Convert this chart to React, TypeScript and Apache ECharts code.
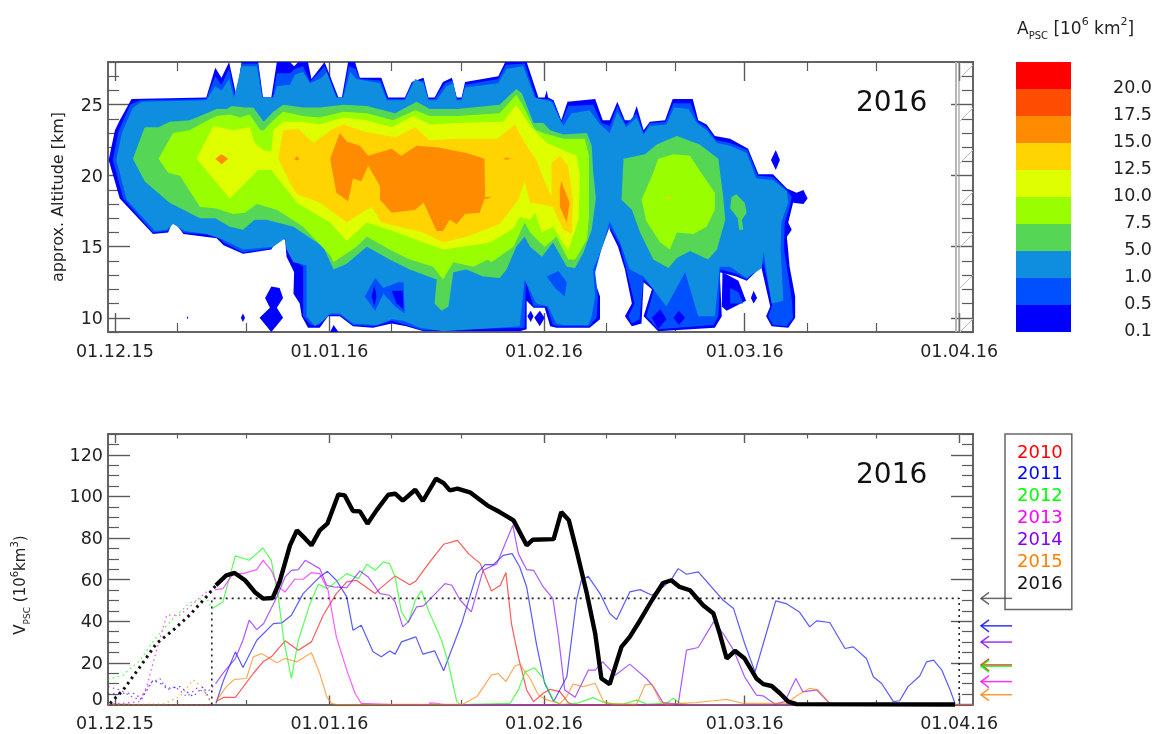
import React, { useEffect, useRef } from "react";
import * as echarts from "echarts";

const FONT = "'DejaVu Sans', Verdana, sans-serif";
const majorDays = [0, 31, 62, 91, 122];
const minorDays = [9, 19, 40, 50, 71, 81, 100, 110];
const dateLabels = ["01.12.15", "01.01.16", "01.02.16", "01.03.16", "01.04.16"];
const altMajor = [10, 15, 20, 25];
const altMinor = [9, 11, 12, 13, 14, 16, 17, 18, 19, 21, 22, 23, 24, 26, 27, 28];
const volMajor = [0, 20, 40, 60, 80, 100, 120];
const volMinor = [5, 10, 15, 25, 30, 35, 45, 50, 55, 65, 70, 75, 85, 90, 95, 105, 110, 115, 125, 130];
const bandLabels = ["0.1", "0.5", "1.0", "5.0", "7.5", "10.0", "12.5", "15.0", "17.5", "20.0"];
const bandColors = ["#0000ff", "#0050ff", "#0f8ee0", "#55d655", "#99ff00", "#dfff00", "#ffd400", "#ff8c00", "#ff4d00", "#ff0000"];
const years = ["2010", "2011", "2012", "2013", "2014", "2015", "2016"];
const yearColors = ["#ff0000", "#0000ff", "#00ff00", "#ff00ff", "#8000ff", "#ff8000", "#111111"];
const arrowValues = [19, 37.8, 18.4, 11, 30, 4.7, 51];
const thresholdLine = [[14, 0], [14, 51], [122, 51], [122, 0]];

// ---- A_PSC contours: [day since 1 Dec, altitude km]
const a01Main = [[-0.9,21.1],[0,23.2],[0.7,23.9],[2.4,25.4],[13.2,25.5],[14.5,27.6],[15.4,26.9],[16.5,28],[17.6,25.5],[18.3,28],[20.7,28],[21.4,25.5],[22.6,25.5],[23.4,28],[25.3,28],[25.9,27.7],[26.5,28],[27.9,28],[28.4,26.8],[30.3,28],[32.3,25.5],[32.8,25.5],[33.7,28],[34.7,28],[35.4,26.9],[38.5,26.9],[39.5,25.5],[41.9,25.5],[42.9,26.6],[44.6,26.9],[45.3,25.5],[46.2,25.5],[47.4,26.6],[48.7,26.9],[49.4,25.5],[50.1,25.5],[50.6,26.6],[55.4,27],[56.4,28],[59.5,28],[61.2,25.5],[62.1,25.5],[62.4,26],[62.6,25.5],[63.4,25.3],[64.5,23.9],[65.4,25.2],[69.4,25.4],[70.5,23.9],[71.5,23.9],[72.6,25.2],[73.7,23.9],[74.7,23.9],[75.4,24.9],[76.4,23.2],[77.3,23.8],[79.5,23.9],[80.6,25.4],[83.5,25.4],[84.3,23.9],[85.5,23.6],[86.7,22.8],[88.9,22.6],[91.5,21.9],[93,20.1],[95.1,20.1],[97.1,19.1],[98.5,18.8],[99.5,19],[100.1,18.4],[99.5,18],[98,18.1],[97.3,16.7],[97.8,16.2],[97.1,15.7],[97.5,13.6],[98.3,11.5],[98.3,10],[97.3,9.3],[94.9,9.4],[94.1,10.1],[94.7,10.8],[93.4,13.6],[91.3,12.6],[89.8,12.9],[87.4,13.2],[87.7,10.1],[86.7,9.3],[78.5,9.05],[76.4,10.1],[77.6,12],[76.4,12.5],[76.1,9.6],[74.7,9.4],[73.7,10.1],[74.7,11],[73.7,13.4],[72.7,15],[71.5,16.2],[71.3,17.4],[70.3,15],[69.1,12.9],[70.1,11.5],[70.1,9.9],[68.6,9.3],[63.8,9.3],[62.9,9.4],[62.1,10.7],[60.5,10.7],[59.5,11.2],[59.5,9.2],[58.5,9.05],[44.6,9.05],[42.1,9.4],[40,9.6],[37.3,9.3],[34.4,9.4],[32.5,10.1],[30.8,10.1],[29.6,9.3],[27.9,9.3],[27,10.1],[26.7,11],[25.8,11.7],[25.9,13.2],[24.8,14.3],[24.6,15.5],[23.6,15.7],[22.6,14.8],[18.5,14.5],[15.7,15.1],[14.7,15.6],[9.9,15.9],[8.4,16.9],[7.7,16],[5.5,15.9],[0.7,18.4]];
const a01Islands = [
  [[21.7,11.4],[22.6,12.2],[23.8,12.1],[24.3,11.4],[23.4,10.7],[24.3,10],[22.6,9],[20.9,10],[22.4,10.7]],
  [[10.4,10],[10.5,10.1],[10.6,10],[10.5,9.9]],
  [[18.2,10],[18.5,10.3],[18.8,10],[18.5,9.7]],
  [[31.1,9],[31.6,9.5],[32.3,9]],
  [[60.6,10],[61.4,10.5],[62.1,10],[61.4,9.4]],
  [[59.6,10.1],[60.1,10.5],[60.5,10.1],[60.1,9.7]],
  [[94.8,21.1],[95.5,21.8],[96.1,21.1],[95.5,20.4]],
  [[91.9,11.4],[92.3,11.9],[92.8,11.4],[92.3,11]],
  [[87.8,13.2],[90.1,12.6],[91.2,11.2],[88.4,10.5],[87.7,10.8]],
];
const a05Main = [[-0.3,21.1],[0.5,23.1],[2.2,25],[3.6,25.3],[13.2,25.4],[14.5,27],[15.4,26.4],[16.5,27.5],[17.4,25.5],[18.3,27.9],[20.7,27.9],[21.3,25.5],[22.8,25.5],[23.4,27.2],[25.3,27.2],[26,27.5],[27.2,27.7],[28.2,26.6],[30.3,27.7],[32.1,25.5],[32.9,25.5],[33.8,27.7],[34.8,27.5],[35.4,26.8],[38.4,26.7],[39.4,25.4],[41.9,25.4],[43,26.6],[44.6,26.7],[45.3,25.4],[46.2,25.4],[47.7,26.5],[48.8,26.7],[49.4,25.4],[50.1,25.4],[50.6,26.4],[55.4,26.8],[56.5,27.8],[59.2,27.9],[60.9,25.4],[62.6,25.4],[63.4,25.2],[64.5,23.7],[65.5,24.9],[69.1,25],[70.3,23.7],[71.5,23.5],[72.6,24.9],[73.8,23.6],[75.4,24.4],[76.4,23],[77.3,23.7],[79.6,23.8],[80.7,25.1],[83.2,25.1],[84.2,23.8],[85.5,23.4],[86.9,22.5],[88.9,22.3],[91.4,21.8],[92.9,20],[95.1,19.9],[97.1,19],[97.8,18.5],[97.5,17.8],[96.8,16.7],[96.7,14.8],[97.3,12.9],[97.8,11.3],[98,10],[97.1,9.4],[95.1,9.5],[94.4,10.1],[95,10.9],[93.7,13.9],[91.3,12.7],[89.8,13.1],[87.5,13.4],[87.2,10.1],[86.5,9.5],[78.5,9.2],[76.8,10.1],[77.9,12],[76.4,12.7],[75.8,9.9],[74.7,9.6],[74.2,10.1],[75.1,11],[73.9,13.4],[73,15.1],[71.5,16.4],[70.3,14.8],[69.4,13.2],[69.8,11.5],[69.6,10],[68.5,9.4],[64.1,9.4],[63.3,9.5],[62.4,10.8],[60.5,10.8],[59.4,12.5],[59.2,9.3],[51.3,9.2],[44.6,9.1],[42.1,9.5],[40,9.8],[37.6,9.4],[34.4,9.5],[32.5,10.2],[30.8,10.2],[29.5,9.5],[28.3,9.5],[27.2,10.1],[27.2,13.6],[25.5,14.2],[24.8,15.5],[23.6,15.9],[22.7,14.9],[18.5,14.6],[15.7,15.3],[14.7,15.8],[9.9,16],[8.4,16.8],[7.7,16.1],[5.5,16],[1.2,18.4]];
const a05Island = [[88.9,12.1],[90.1,11.8],[90.8,11],[88.9,11]];
const a10Main = [[0.2,21.1],[1,23],[2.6,24.8],[3.9,25.2],[13.2,25.3],[14.5,26.3],[15.4,26],[16.5,26.8],[17.2,25.5],[18.3,27.7],[20.5,27.7],[21.3,25.5],[22.9,25.5],[23.4,26.3],[25.3,26.4],[26,27.1],[27.2,27.3],[28.2,26.5],[29.9,26.9],[30.6,27.3],[32,25.5],[33,25.5],[34,27.3],[34.9,26.8],[38.3,26.5],[39.3,25.3],[41.9,25.3],[43.4,26.8],[44.6,26.5],[45.3,25.3],[46.5,25.3],[47.9,26.3],[48.9,26.5],[49.4,25.3],[50.1,25.3],[50.6,26.2],[55.4,26.5],[56.6,27.5],[59,27.7],[60.7,25.5],[63.1,25.2],[64.8,23.5],[66,24.4],[68.6,24.6],[70.1,23.6],[71.5,23],[72.6,24.5],[73.9,23.4],[75.4,24.1],[76.4,22.9],[77.3,23.5],[79.7,23.6],[80.8,24.8],[82.9,24.7],[84.1,23.7],[85.5,23.2],[87,22.3],[88.9,22.1],[91.3,21.6],[92.7,19.8],[95.1,19.7],[97.1,18.9],[97.3,18.1],[96.3,16.7],[96.2,14.8],[96.6,11.2],[94.9,11],[93.7,14.7],[93.5,13.5],[91.3,12.8],[88.9,13.6],[87.4,13.6],[86.7,10.1],[84.3,10.1],[82.4,13.2],[79.7,10.8],[76.4,12.9],[74.4,13.4],[73,15.3],[71.5,16.8],[70.3,14.8],[69.1,13.4],[69.4,11.5],[68.9,10.1],[68.4,9.5],[64.8,9.5],[63.8,9.6],[62.6,10.8],[60.9,11],[59.2,12.7],[58.5,9.4],[47.4,9.05],[44.1,9.3],[41.7,9.8],[40,9.9],[37.8,9.5],[34.4,9.6],[32.5,10.3],[31.1,10.3],[30.1,9.8],[28.9,9.4],[27.7,10.1],[27.7,13.7],[25.8,13.9],[24.8,14.8],[24.6,15.6],[22.9,15],[18.5,14.8],[15.7,15.5],[13.2,15.9],[10.1,16.1],[8.4,16.6],[7.5,16.2],[5.8,16.1],[1.7,18.3]];
const a05Patches = [
  [[36.1,11.5],[37.6,12.8],[38.8,12.1],[40.9,12.5],[41.7,12.5],[41.9,10.3],[40.5,10.8],[38.8,11.7],[37.6,10.5]],
  [[62.4,12.9],[64.1,13.3],[65.3,12.5],[65,11.5],[63.6,12.1]],
];
const a01Patches = [
  [[37.1,11.5],[37.5,12.3],[37.8,11.5],[37.5,10.8]],
  [[40,11.9],[41.6,11.9],[41.7,10.6],[40.7,11]],
  [[80.7,10],[81.5,10.5],[82.4,10],[81.5,9.5]],
  [[77.6,10],[78.8,10.6],[79.7,9.9],[78.5,9.2]],
];
const a50Main = [[2.6,21.2],[4.3,23.4],[6.3,23.4],[7.9,23.8],[10.8,23.9],[12.8,24.3],[14.7,24.7],[16.1,24.7],[16.9,24.9],[18.8,24.8],[20,24.8],[21.5,23.8],[22.9,24.5],[24.3,25],[27.2,24.8],[29.6,24.8],[33,25],[36.4,24.9],[40.5,24.4],[43.6,25.2],[45.5,24.7],[49.4,24.7],[55.6,25],[58,26.1],[58.8,25.8],[60.5,23.7],[61.9,23.7],[62.9,23.2],[64.8,22.9],[68.2,23],[68.9,22.1],[69.1,20.4],[69.5,18.4],[68.9,16.2],[67.7,14.6],[66.5,13.5],[65.3,13.6],[63.3,15.3],[61.7,14.3],[60,15],[59.2,15.7],[58,15],[56.6,13.4],[55.6,12.8],[53.2,12.9],[50.8,13.4],[48.9,13.2],[48.2,10.8],[47.2,10.5],[46.2,11],[46.5,12.7],[42.6,13.4],[39.7,14.1],[36.4,15],[33.5,13.8],[31.6,13.4],[30.1,15],[25.8,16.4],[21.9,16.9],[20.2,16.9],[18.5,16.2],[16.6,16.4],[14.5,17],[12.3,17],[7.9,18.1],[5.5,19.1],[4.3,19.6]];
const a50Second = [[73.5,21.2],[76.6,21.5],[78.3,22.2],[81.2,22.8],[84.5,22.2],[87.2,21.2],[87.9,18.5],[88.2,16.9],[87,14.8],[85.7,14.1],[83.1,14.7],[81.2,14.2],[80,13.5],[77.8,14.1],[75.9,16],[74.7,17.6],[73.2,18.3]];
const a50Third = [[89.1,18.5],[89.8,18.7],[91,18.1],[91.3,17.4],[90.6,16.9],[90.8,16.2],[90.2,16.2],[90,17],[88.9,17.7]];
const a75Main = [[6.3,21.2],[8.4,23],[10.8,23.2],[13,23.8],[14.7,24.2],[16.6,24.3],[18.1,24.1],[19.5,24.3],[21,23.2],[21.5,23.2],[22.9,23.9],[24.3,24.5],[27.2,24.2],[29.6,24.1],[33,24.5],[36.4,24.4],[40.2,23.9],[43.4,24.6],[45.5,24.2],[49.4,24.2],[55.6,24.4],[58,25.7],[59,24.9],[60.5,23.4],[60.9,23.2],[61.9,23],[64.8,22.6],[67.9,22.6],[68.5,21.4],[68.5,17.1],[68.2,15.5],[66.5,14.1],[65.5,14.1],[63.8,15.7],[62.1,15],[61.2,15.4],[60,16],[59.2,16.7],[57.6,15],[54.4,13.9],[53.9,14.1],[51.8,13.6],[48.9,13.9],[47.4,12.7],[46,13.6],[42.6,14.1],[39.7,14.8],[36.4,15.7],[34.9,15],[31.6,13.9],[31.1,14.4],[27.2,16.4],[23.4,17.6],[20.5,18],[18.8,17.4],[17.1,17.3],[14.5,17.7],[12.3,17.8],[9.4,20],[7.7,20.2]];
const a75Second = [[78.5,21.2],[80.7,21.5],[83.1,21.4],[85,20],[86.7,18.8],[86.7,17.6],[85.5,16.4],[83.6,15.9],[81.2,16],[80.2,14.8],[78.8,15.3],[76.8,16.8],[76.1,18.3],[77.8,20.2]];
const a100Main = [[11.8,21.2],[14.2,23.5],[17.1,23.2],[19.5,23.4],[20.2,22.3],[21.4,21.8],[22.6,21.7],[22.9,23.2],[24.3,23.8],[27.2,23.8],[29.6,23.6],[33,24.1],[36.4,23.9],[40,23.4],[43.1,24.2],[45.5,23.6],[49.4,23.7],[56.1,23.8],[58,25],[60,23.5],[62.4,22.3],[66.7,21.4],[67.2,20],[67,16.9],[65.5,14.7],[63.3,16.4],[61.7,16],[60.7,17.4],[60,16.9],[58.5,17.1],[57.6,16.3],[54.2,15.3],[50.3,15],[47.4,14.8],[44.6,15.3],[40.2,16.1],[36.4,16.7],[33.5,15.4],[31.1,16.7],[26.3,18.1],[22.6,20.4],[20.7,20.4],[16.6,18.4]];
const a125Main = [[23.6,21.2],[24.3,23.2],[26.5,23.3],[28.7,22.3],[31.1,23.2],[33,23.6],[36.1,23.1],[40.5,22.7],[43.4,23.4],[45.5,22.5],[49.4,22.6],[55.2,22.6],[57.8,23.6],[59.5,22.1],[60.9,21.1],[62.1,19.6],[63.1,18.5],[63.1,20.9],[64.3,21.4],[65.5,20.7],[66.2,18.3],[66,15.9],[64.8,16.2],[63.3,17.8],[61.4,18],[60,18.1],[59.2,19.6],[58.3,18.3],[55.6,16.6],[50.8,15.7],[47.4,15.3],[44.6,16],[38.5,16.7],[37.1,17.8],[35.4,17.3],[33.5,16.7],[29.6,18.1],[26.3,18.7],[25.3,19.5]];
const a125Tiny = [[79.5,18.45],[80.3,18.5],[80.5,18.4],[79.5,18.4]];
const a150Main = [[31.1,21.2],[32.5,23],[33.5,22.4],[35.4,22.1],[36.6,21.4],[40,21.9],[41.4,21.4],[43.6,22.1],[46.5,22],[50.8,21.6],[53.4,21.2],[53.5,18.5],[52.7,17.4],[50.6,17.3],[49.4,16.6],[48.4,16.9],[47.4,16.1],[46.5,16.1],[44.6,18.1],[43.4,17.6],[40,17.4],[38.3,18.3],[38.3,19.3],[36.6,20.7],[35.6,19.6],[34.4,19.8],[33.7,18.2],[32,18.8]];
const a150Tiny = [
  [[14.5,21.2],[15.4,21.5],[16.4,21.2],[15.4,20.8]],
  [[25.9,21.2],[26.3,21.35],[26.7,21.2],[26.3,21.05]],
  [[56.1,21.2],[56.6,21.28],[57.2,21.2],[56.6,21.12]],
  [[53.5,18.5],[54.5,18.48],[53.5,18.35]],
  [[64.3,19],[64.5,19.6],[65.7,18.1],[65.3,16.7],[64.3,17.8]],
];

const contours: [number, number[][]][] = [
  [0, a01Main], ...a01Islands.map((p) => [0, p] as [number, number[][]]),
  [1, a05Main], [1, a05Island],
  [2, a10Main],
  ...a05Patches.map((p) => [1, p] as [number, number[][]]),
  ...a01Patches.map((p) => [0, p] as [number, number[][]]),
  [3, a50Main], [3, a50Second], [3, a50Third],
  [4, a75Main], [4, a75Second],
  [5, a100Main],
  [6, a125Main], [6, a125Tiny],
  [7, a150Main], ...a150Tiny.map((p) => [7, p] as [number, number[][]]),
];

// ---- V_PSC lines: [day since 1 Dec, volume]
const v2010 = [[14.6,1.4],[15.7,3.4],[17.4,3.4],[20,14.9],[21.4,20.5],[22.6,22.9],[24.6,30.6],[26.5,26.1],[28.4,30.1],[30.1,42.9],[32,53.3],[33.5,58.9],[34.9,59.7],[37.6,53.3],[38.3,55.7],[40.5,61.8],[42.6,57.6],[43.5,59.4],[45.5,68.5],[47.5,77],[49.5,78.9],[51.1,72.5],[52.8,67.7],[54.4,54.6],[55.7,57.3],[56.5,63.4],[57.3,38.9],[58.3,22.9],[59.5,7],[60.5,1.4],[61.9,5.4],[62.9,7.3],[64.3,6.2],[65.5,0.9],[66.2,0],[124,0]];
const v2011 = [[14.6,0.5],[15.7,11.7],[17.4,25.3],[18.5,17.8],[20.5,30.9],[22.9,38.9],[24.1,39.2],[25.5,42.9],[27.2,53.3],[29.6,61.3],[30.7,64],[32,59.7],[33.5,51.7],[34.4,35.7],[35.6,38.1],[37.3,25.3],[38.5,22.9],[39.7,25.7],[40.5,24.2],[41.4,30.1],[43.5,32.5],[44.5,24.2],[46.2,25.8],[47.5,16.2],[50.1,38.9],[52.3,62.9],[53.5,67.2],[54.7,67.2],[56.1,71.7],[57.4,72.5],[58.5,66.1],[59.5,56.5],[60.9,29.3],[62.1,10.2],[63.4,1.4],[65.3,13.3],[66.7,50.1],[67.4,59.7],[68.4,61.6],[70.1,53.3],[71.5,43.7],[72.5,40.8],[74.4,54.1],[75.9,55.2],[77.6,52.5],[79.2,56.5],[80.4,60],[81.4,65.3],[82.6,62.6],[84.3,63.7],[86,57.3],[87.9,50.1],[89.4,46.1],[91,29.3],[92.5,15.7],[93.7,29.3],[95.5,49.8],[97,48.5],[98.9,44.5],[100.4,37.3],[101.4,40.2],[103.3,39.4],[105.5,26.9],[106.7,27.7],[108.6,22.1],[109.6,13.3],[110.8,10.1],[112.5,1.4],[113.4,1.8],[114.6,8.6],[116.3,13.7],[117.3,20.5],[118.3,21.3],[119.5,16.5],[120.7,7],[121.4,0.5]];
const v2012 = [[14,46],[15.6,49.3],[17.4,71.4],[19.4,69.3],[21.4,75.2],[22.6,69.3],[23.6,51.7],[24.4,30.9],[25.5,12.5],[26.5,30.9],[28.2,48.5],[29.4,57.8],[30.7,55.7],[33.5,62.9],[35.2,60.5],[36.4,67.4],[37.6,64.5],[38.8,68.5],[39.7,67.7],[40.5,61.3],[41.4,44.5],[42.4,39.3],[43.4,50.1],[44.3,54.6],[45.3,45.3],[47.2,30.9],[48.2,19.7],[49.4,1.4],[49.9,0],[57.1,0.5],[58.3,7],[59.3,15.7],[60.6,17.7],[61.9,12.5],[63.3,2.2],[64.3,0],[66.7,0.5],[69.1,3.3],[71,0.5],[73.5,0.2],[75.4,2.2],[76.8,0.2],[79.7,0.5],[80.7,3],[81.7,0.5],[83,0],[124,0]];
const v2013 = [[14.6,55.2],[15.6,55.7],[17.1,62.9],[18.5,62.9],[20.5,64.8],[21.4,69.3],[22.6,64.5],[23.6,56.5],[24.6,54.1],[26,60.2],[27.2,60.2],[28.4,63.4],[29.6,62.9],[30.8,54.9],[32,32.5],[33.5,16.5],[34.7,5.4],[35.6,0.5],[40,0],[45.5,0],[45.5,0.8],[46.4,0.6],[47.5,0],[124,0]];
const v2014 = [[14.6,10.2],[15.6,15],[17.4,22.1],[18.5,30.9],[19.4,40.5],[20.5,36],[21.5,38.9],[23.4,51.7],[24.6,61.3],[25.5,64.5],[26.5,64.8],[27.5,69.3],[29.6,65.3],[30.6,57.3],[31.6,56.5],[33.5,56.2],[35.4,64.2],[36.6,61.3],[38.3,53.3],[39.7,52.5],[40.5,49.3],[41.6,37.3],[42.4,39.7],[43.6,46.9],[44.6,47.4],[47.7,58.1],[48.7,57.3],[49.9,50.1],[51.5,44.5],[53.2,64.5],[55.2,67.7],[56.6,78.9],[57.5,86.1],[58.3,72.5],[59.5,64.8],[60.5,64.5],[61.9,56.5],[63.3,50.9],[64.1,32.5],[65,7],[66.5,3.5],[68.4,16.5],[69.4,16.5],[70.5,20.5],[72.3,14.1],[74.4,19.4],[76.8,12.5],[77.8,8.6],[79.2,0.9],[81.4,0.2],[82.6,26.1],[84.3,27.4],[86.5,39.7],[87.9,34.1],[89.4,26.1],[91,13.3],[92.7,4.5],[93.7,4.1],[95.4,0.2],[96.8,1.4],[98.4,12.5],[99.4,6.1],[101.4,7],[103.3,0.5],[104.3,0],[124,0]];
const v2015 = [[14.6,1.4],[16.1,8.6],[17.3,12.1],[19,12.5],[20,22.9],[21.2,24.5],[23.4,20.1],[24.6,22.1],[26.3,20.5],[28.4,24.9],[29.6,14.9],[30.6,3.8],[31.3,0.5],[32,0],[50.3,0.2],[52.3,3.8],[54.4,14.1],[55.4,14.9],[56.5,11],[57.8,18.5],[58.5,19.3],[60,12.5],[61.2,4.6],[62.4,2.2],[64.3,0.5],[65.3,3.8],[66.2,9.8],[67.7,8.6],[69.4,10.2],[70.6,1.4],[72,0.2],[75.4,0.2],[76.6,9.4],[77.6,9.8],[78.8,1.4],[79.7,0.2],[84,0.9],[86.5,1.8],[88.4,2.5],[90.8,0.5],[97,0.5],[98.7,4.6],[100.4,7.8],[101.6,7],[103.3,0.5],[104,0],[124,0]];
const v2016 = [[14.6,57.3],[16.1,62.1],[17.3,63.2],[18.8,59.7],[20.2,54.1],[21.4,50.9],[22.8,51.2],[23.8,58.9],[25.3,76.5],[26.3,83.7],[27.5,79.7],[28.4,76.5],[29.6,83.7],[30.7,86.9],[32.3,101],[33.2,100.5],[34.4,93],[35.4,92.8],[36.5,86.9],[37.8,93.3],[39.5,100.8],[40.5,101.3],[41.6,98],[43.4,103.2],[44.5,97.8],[46.4,108.5],[47.5,106.4],[48.4,102.9],[49.5,103.7],[51.3,102],[53.8,95.7],[55.6,92.5],[57.6,88.5],[59.5,76.5],[60.4,79.2],[63.4,79.5],[64.5,92.5],[65.6,88.5],[66.7,74.1],[68.2,53.3],[69.4,34.1],[70.3,12.5],[71.5,9.8],[73.2,27.7],[74.4,32.5],[75.9,40.5],[77.6,50.1],[79.2,58.4],[80.4,59.7],[81.6,56.5],[83.1,54.9],[85,47.7],[86.5,43.7],[87.4,34.1],[88.4,22.1],[89.6,25.8],[91,22.1],[92.7,12.5],[93.7,9.8],[94.9,8.9],[96.1,5.4],[97.3,1.4],[98.5,0.2],[121.4,0]];
const d2010 = [[-1,0],[14,0]];
const d2011 = [[-1,5],[1.2,5.4],[2.7,5.4],[3.9,2.8],[5.5,11.7],[8,7.8],[9.4,8.6],[11.3,3.8],[12.8,8.6],[14,0]];
const d2012 = [[-1,12],[1.2,14.2],[3.6,21.3],[6,32.5],[8.4,41.3],[10.8,48.8],[13.2,51.7],[14,46]];
const d2013 = [[-1,0],[3.6,1.4],[4.6,8.6],[6,26],[7.5,43],[9.4,43],[10.8,47],[13.2,54],[14.6,55.2]];
const d2014 = [[-1,8.6],[0.7,7],[2.4,3.8],[3.6,2.2],[5,10],[6.5,12.5],[7.5,7],[8.7,8.6],[10.4,3.8],[11.8,7.8],[13.2,5.4],[14.6,10.2]];
const d2015 = [[-1,0],[7,0.2],[9.4,3.8],[11.3,11.8],[12.5,8.6],[14,0.5]];
const d2016 = [[-0.7,0.5],[1.2,7],[3.6,18],[6,29.3],[8.4,35.7],[10.8,43],[13.2,51.7],[14.6,57.3]];
const solidSeries = [v2010, v2011, v2012, v2013, v2014, v2015, v2016];
const dottedSeries = [d2010, d2011, d2012, d2013, d2014, d2015, d2016];

const lineGrey = "#5a5a5a";

function axisPair(grid: number, side: string, min: number, max: number, major: number[], minor: number[], majLen: number, minLen: number, withLabels: boolean, extra: any = {}) {
  const base = {
    type: "value", gridIndex: grid, position: side, min, max, scale: true,
    splitLine: { show: false }, axisPointer: { show: false },
    axisLine: { show: true, onZero: false, lineStyle: { color: lineGrey, width: 1.5 } },
  };
  return [
    {
      ...base, ...extra,
      axisTick: { show: true, inside: true, length: majLen, customValues: major, lineStyle: { color: lineGrey, width: 1.4 } },
      axisLabel: withLabels ? extra.axisLabel : { show: false },
    },
    {
      ...base,
      axisTick: { show: true, inside: true, length: minLen, customValues: minor, lineStyle: { color: lineGrey, width: 1.2 } },
      axisLabel: { show: false },
    },
  ];
}

const xLabel = (margin: number) => ({
  show: true, customValues: majorDays, margin, fontFamily: FONT, fontSize: 17.5, color: "#222",
  formatter: (v: number) => dateLabels[majorDays.indexOf(Math.round(v))] ?? "",
});

const hatchYs = [78, 121, 163, 205, 247, 288, 332];

export default function App() {
  const ref = useRef<HTMLDivElement>(null);
  useEffect(() => {
    const chart = echarts.init(ref.current!, undefined, { renderer: "svg" });
    const xAxes = [
      ...axisPair(0, "bottom", -1, 124, majorDays, minorDays, 19, 9, true, { axisLabel: xLabel(10) }),
      ...axisPair(0, "top", -1, 124, majorDays, minorDays, 19, 9, false),
      ...axisPair(1, "bottom", -1, 124, majorDays, minorDays, 9, 4.5, true, { axisLabel: xLabel(9) }),
      ...axisPair(1, "top", -1, 124, majorDays, minorDays, 9, 4.5, false),
      { type: "value", gridIndex: 2, min: 0, max: 1, show: false },
    ];
    const altLabel = { show: true, customValues: altMajor, margin: 5, fontFamily: FONT, fontSize: 17.5, color: "#222" };
    const volLabel = {
      show: true, customValues: volMajor, margin: 5, fontFamily: FONT, fontSize: 17.5, color: "#222",
      formatter: (v: number) => (v === 0 ? "{z|0}" : String(v)),
      rich: { z: { fontFamily: FONT, fontSize: 17.5, color: "#222", padding: [0, 0, 12, 0] } },
    };
    const yAxes = [
      ...axisPair(0, "left", 9, 28, altMajor, altMinor, 22, 11, true, {
        axisLabel: altLabel, name: "approx. Altitude [km]", nameLocation: "middle", nameGap: 43, nameRotate: 90,
        nameTextStyle: { fontFamily: FONT, fontSize: 16, color: "#222" },
      }),
      ...axisPair(0, "right", 9, 28, altMajor, altMinor, 22, 11, false),
      ...axisPair(1, "left", 0, 130, volMajor, volMinor, 22, 11, true, { axisLabel: volLabel }),
      ...axisPair(1, "right", 0, 130, volMajor, volMinor, 22, 11, false),
      {
        type: "category", gridIndex: 2, position: "right", data: bandLabels,
        axisLine: { show: false }, axisTick: { show: false },
        axisLabel: {
          margin: 81, align: "right", fontFamily: FONT, fontSize: 17.5, color: "#222",
          formatter: (v: string) => `{t|${v}}`,
          rich: { t: { fontFamily: FONT, fontSize: 17.5, color: "#222", padding: [23, 0, 0, 0] } },
        },
      },
    ];
    const series: any[] = [
      {
        type: "custom", name: "A_PSC", xAxisIndex: 0, yAxisIndex: 0, clip: true,
        data: contours.map((c) => c[1][0]),
        renderItem: (params: any, api: any) => {
          const [level, pts] = contours[params.dataIndex];
          return {
            type: "polygon",
            shape: { points: pts.map((p) => api.coord(p)) },
            style: { fill: bandColors[level], stroke: "none" },
          };
        },
      },
      {
        type: "bar", name: "scale", xAxisIndex: 8, yAxisIndex: 8, barWidth: "100%",
        data: bandColors.map((c) => ({ value: 1, itemStyle: { color: c } })),
      },
    ];
    years.forEach((y, i) => {
      const isBlack = y === "2016";
      series.push({
        type: "line", name: y, xAxisIndex: 4, yAxisIndex: 4, data: dottedSeries[i], symbol: "none", clip: false,
        lineStyle: { color: yearColors[i], width: isBlack ? 3 : 1.2, type: isBlack ? [2.5, 4] : [1.5, 3.5], opacity: isBlack ? 1 : 0.75 },
      });
    });
    series.push({
      type: "line", name: "threshold", xAxisIndex: 4, yAxisIndex: 4, data: thresholdLine, symbol: "none", clip: false,
      lineStyle: { color: "#222", width: 1.6, type: [2, 4] },
    });
    years.forEach((y, i) => {
      const isBlack = y === "2016";
      series.push({
        type: "line", name: y, xAxisIndex: 4, yAxisIndex: 4, data: solidSeries[i], symbol: "none", clip: false,
        lineStyle: { color: isBlack ? "#000" : yearColors[i], width: isBlack ? 4.4 : 1.2, opacity: isBlack ? 1 : 0.65 },
      });
    });
    series.push({
      type: "custom", name: "arrows", xAxisIndex: 4, yAxisIndex: 4, clip: false, z: 10,
      data: arrowValues.map((v) => [124, v]),
      renderItem: (params: any, api: any) => {
        const [x, y] = api.coord([api.value(0), api.value(1)]);
        const color = years[params.dataIndex] === "2016" ? "#444" : yearColors[params.dataIndex];
        const style = { stroke: color, lineWidth: 1.5, fill: "none", opacity: 0.8 };
        return {
          type: "group",
          children: [
            { type: "line", shape: { x1: x + 8, y1: y, x2: x + 39, y2: y }, style },
            { type: "polyline", shape: { points: [[x + 16, y - 6], [x + 8, y], [x + 16, y + 6]] }, style },
          ],
        };
      },
    });
    const hatch = hatchYs.map((y) => ({
      type: "line", z: 20, shape: { x1: 960, y1: y, x2: 973, y2: y - 13 }, style: { stroke: "#bdbdbd", lineWidth: 1 },
    }));
    chart.setOption({
      animation: false,
      textStyle: { fontFamily: FONT },
      grid: [
        { left: 108, top: 62, width: 865, height: 270 },
        { left: 108, top: 434, width: 865, height: 270.5 },
        { left: 1016, top: 62, width: 61, height: 270 },
      ],
      xAxis: xAxes,
      yAxis: yAxes,
      legend: {
        show: true, orient: "vertical", left: 1005, top: 434, padding: [8, 9, 18, 12],
        itemWidth: 0, itemHeight: 14, itemGap: 3.9, align: "left", selectedMode: false,
        borderColor: "#666", borderWidth: 1.5, backgroundColor: "transparent",
        textStyle: { fontFamily: FONT, fontSize: 18, padding: [0, 0, 0, -5] },
        data: years.map((y, i) => ({ name: y, icon: "none", textStyle: { color: yearColors[i] } })),
      },
      series,
      graphic: [
        ...hatch,
        { type: "line", z: 20, shape: { x1: 956, y1: 62, x2: 956, y2: 332 }, style: { stroke: "#b5b5b5", lineWidth: 2 } },
        { type: "line", z: 20, shape: { x1: 959, y1: 62, x2: 959, y2: 332 }, style: { stroke: "#8a8a8a", lineWidth: 1 } },
        { type: "text", x: 856, y: 101, z: 20, style: { text: "2016", font: `28px ${FONT}`, fill: "#111", verticalAlign: "middle" } },
        { type: "text", x: 856, y: 473, z: 20, style: { text: "2016", font: `28px ${FONT}`, fill: "#111", verticalAlign: "middle" } },
        {
          type: "text", x: 1017, y: 28, z: 20,
          style: {
            text: "{a|A}{s|PSC}{a| [10}{u|6}{a| km}{u|2}{a|]}", verticalAlign: "middle", fill: "#222",
            rich: {
              a: { fontFamily: FONT, fontSize: 17, fill: "#222", lineHeight: 24 },
              s: { fontFamily: FONT, fontSize: 10, fill: "#222", lineHeight: 24, verticalAlign: "bottom" },
              u: { fontFamily: FONT, fontSize: 11, fill: "#222", lineHeight: 24, verticalAlign: "top" },
            },
          },
        },
        {
          type: "text", x: 20, y: 585, rotation: Math.PI / 2, z: 20,
          style: {
            text: "{a|V}{s|PSC}{a| (10}{u|6}{a|km}{u|3}{a|)}", align: "center", verticalAlign: "middle", fill: "#222",
            rich: {
              a: { fontFamily: FONT, fontSize: 15, fill: "#222", lineHeight: 22 },
              s: { fontFamily: FONT, fontSize: 9, fill: "#222", lineHeight: 22, verticalAlign: "bottom" },
              u: { fontFamily: FONT, fontSize: 10, fill: "#222", lineHeight: 22, verticalAlign: "top" },
            },
          },
        },
      ],
    });
    return () => chart.dispose();
  }, []);
  return (
    <div ref={ref} style={{ position: "fixed", left: 0, top: 0, width: 1155, height: 734, filter: "blur(0.35px)", background: "#fff" }} />
  );
}
